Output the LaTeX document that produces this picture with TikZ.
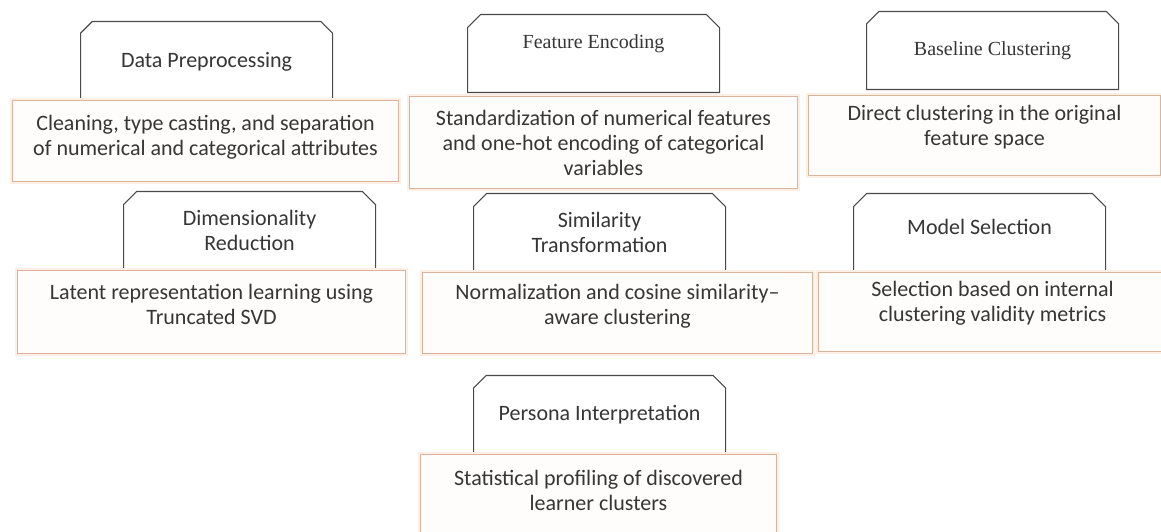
\documentclass[tikz,border=0pt]{standalone}
\usepackage{fontspec}
\setmainfont{Carlito}
\newfontfamily\timesfont{Liberation Serif}
\usetikzlibrary{shapes.misc, positioning}

\definecolor{tabline}{HTML}{4A4A4A}
\definecolor{boxline}{HTML}{DBB49E}
\definecolor{boxglow}{HTML}{FDEFE4}
\definecolor{boxfill}{HTML}{FFFDFB}
\definecolor{inktext}{HTML}{363636}

\begin{document}
\begin{tikzpicture}[x = 1pt, y = -1pt,
	tab/.style = {draw = tabline, line width = 1.1pt, fill = white, chamfered rectangle,
		chamfered rectangle corners = {north west, north east}, chamfered rectangle xsep = 10pt,
		minimum width = 252pt, minimum height = 78pt, inner sep = 0pt, anchor = south west,
		align = center, text = inktext, font = \fontsize{22}{25}\selectfont},
	serif/.style = {font = \timesfont\fontsize{20}{25}\selectfont},
	descbox/.style = {draw = boxline, line width = 1pt, fill = boxfill,
		preaction = {draw = boxglow, line width = 5pt}, anchor = north west, inner sep = 0pt},
	desctext/.style = {align = center, inner sep = 0pt, text = inktext, font = \fontsize{22}{25}\selectfont}
]

\useasboundingbox [fill = white] (0, 0) rectangle (1161, 531);

% Data preprocessing

\node [tab, text depth = 2pt] (tab1) at (80, 100) {Data Preprocessing};
\node [descbox, minimum width = 386pt, minimum height = 81pt] (box1) at (12, 100) {};
\node [desctext, below = 15pt of box1.north] (txt1) {Cleaning, type casting, and separation\\of numerical and categorical attributes};

% Feature encoding

\node [tab, serif, text depth = 24pt] (tab2) at (467, 93) {Feature Encoding};
\node [descbox, minimum width = 388pt, minimum height = 92pt] (box2) at (409, 96) {};
\node [desctext, below = 14pt of box2.north] (txt2) {Standardization of numerical features\\and one-hot encoding of categorical\\variables};

% Baseline clustering

\node [tab, serif] (tab3) at (866, 90) {Baseline Clustering};
\node [descbox, minimum width = 352pt, minimum height = 80pt] (box3) at (808, 95) {};
\node [desctext, below = 10pt of box3.north] (txt3) {Direct clustering in the original\\feature space};

% Dimensionality reduction

\node [tab] (tab4) at (123, 270) {Dimensionality\\Reduction};
\node [descbox, minimum width = 388pt, minimum height = 83pt] (box4) at (17, 270) {};
\node [desctext, below = 14pt of box4.north] (txt4) {Latent representation learning using\\Truncated SVD};

% Similarity transformation

\node [tab] (tab5) at (473, 272) {Similarity\\Transformation};
\node [descbox, minimum width = 390pt, minimum height = 81pt] (box5) at (422, 272) {};
\node [desctext, below = 12pt of box5.north] (txt5) {Normalization and cosine similarity–\\aware clustering};

% Model selection

\node [tab, text depth = 12pt] (tab6) at (853, 272) {Model Selection};
\node [descbox, minimum width = 348pt, minimum height = 79pt] (box6) at (818, 272) {};
\node [desctext, below = 9pt of box6.north] (txt6) {Selection based on internal\\clustering validity metrics};

% Persona interpretation

\node [tab] (tab7) at (473, 454) {Persona Interpretation};
\node [descbox, minimum width = 356pt, minimum height = 95pt] (box7) at (420, 454) {};
\node [desctext, below = 16pt of box7.north] (txt7) {Statistical profiling of discovered\\learner clusters};

\end{tikzpicture}
\end{document}
